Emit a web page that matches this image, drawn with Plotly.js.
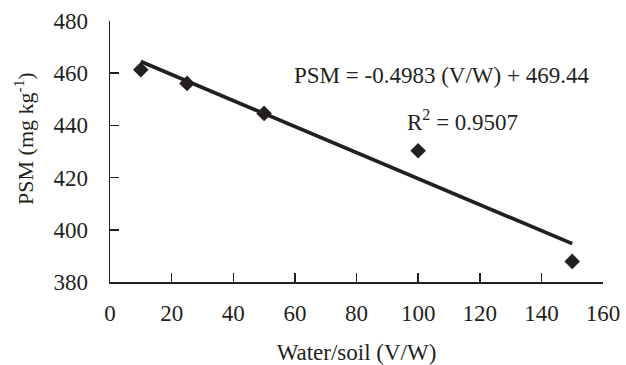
<!DOCTYPE html>
<html>
<head>
<meta charset="utf-8">
<script src="https://cdn.plot.ly/plotly-3.0.1.min.js"></script>
<style>html,body{margin:0;padding:0;background:#fff;}#chart{width:626px;height:365px;}</style>
</head>
<body>
<div id="chart"></div>
<script>
// Data
const ratioVW = [10, 25, 50, 100, 150];
const psmValues = [461.3, 456.1, 444.6, 430.3, 387.9];
const fitSlope = -0.4983;
const fitIntercept = 469.44;
const fitRange = [10, 150];
const xTicks = [0, 20, 40, 60, 80, 100, 120, 140, 160];
const yTicks = [380, 400, 420, 440, 460, 480];
const eqText = "PSM = -0.4983 (V/W) + 469.44";
const r2Text = "R<sup>2</sup> = 0.9507";
const xTitle = "Water/soil (V/W)";
const yTitle = "PSM (mg kg<sup>-1</sup>)";

const ink = "#231f20";
const fontFam = "Liberation Serif, Times New Roman, serif";
const fs = 23;

const fitX = fitRange;
const fitY = fitRange.map(v => fitSlope * v + fitIntercept);

const traces = [
  {x: fitX, y: fitY, mode: "lines", type: "scatter",
   line: {color: ink, width: 3.7}, hoverinfo: "skip"},
  {x: ratioVW, y: psmValues, mode: "markers", type: "scatter",
   marker: {symbol: "diamond", size: 12, color: ink}}
];

const layout = {
  width: 626, height: 365,
  margin: {l: 110, r: 23, t: 21, b: 83},
  paper_bgcolor: "#fff", plot_bgcolor: "#fff",
  showlegend: false,
  font: {family: fontFam, color: ink, size: fs},
  xaxis: {
    range: [0, 160], tickvals: xTicks, ticktext: xTicks.map(String),
    showgrid: false, zeroline: false, showline: true, linecolor: ink, linewidth: 1.5,
    ticks: "inside", ticklen: 9, tickwidth: 1.5, tickcolor: ink,
    ticklabelstandoff: 10,
    title: {text: xTitle, standoff: 19, font: {size: fs}}
  },
  yaxis: {
    range: [380, 480], tickvals: yTicks, ticktext: yTicks.map(String),
    showgrid: false, zeroline: false, showline: true, linecolor: ink, linewidth: 1.5,
    ticks: "inside", ticklen: 9, tickwidth: 1.5, tickcolor: ink,
    ticklabelstandoff: 16
  },
  annotations: [
    {x: 107.5, y: 459, xref: "x", yref: "y", text: eqText, showarrow: false,
     font: {size: fs, family: fontFam, color: ink}},
    {x: 114.3, y: 442, xref: "x", yref: "y", text: r2Text, showarrow: false,
     font: {size: fs, family: fontFam, color: ink}},
    {x: 0, y: 0.548, xref: "paper", yref: "paper", xshift: -86, text: yTitle,
     textangle: -90, showarrow: false, xanchor: "center", yanchor: "middle",
     font: {size: 22, family: fontFam, color: ink}}
  ]
};

Plotly.newPlot("chart", traces, layout, {displayModeBar: false, staticPlot: true});
</script>
</body>
</html>
